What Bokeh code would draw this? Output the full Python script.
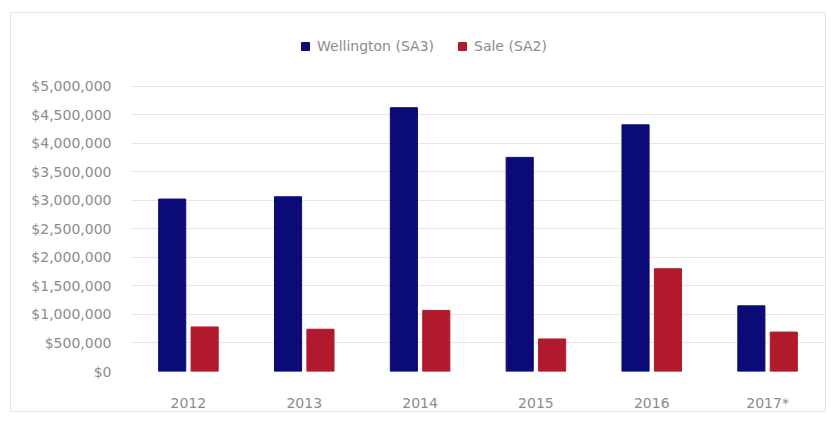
from bokeh.plotting import figure
from bokeh.models import FactorRange, ColumnDataSource, NumeralTickFormatter, FixedTicker, Legend, LegendItem
from bokeh.transform import dodge
from bokeh.embed import file_html
from bokeh.resources import INLINE

years = ["2012", "2013", "2014", "2015", "2016", "2017*"]
wellington = [3020000, 3060000, 4620000, 3750000, 4320000, 1150000]
sale = [780000, 740000, 1070000, 570000, 1800000, 690000]
y_ticks = [0, 500000, 1000000, 1500000, 2000000, 2500000, 3000000, 3500000, 4000000, 4500000, 5000000]

src = ColumnDataSource(dict(year=years, wellington=wellington, sale=sale))

FONT = "DejaVu Sans"
TXT = "#8c8c8c"

p = figure(x_range=FactorRange(*years), y_range=(0, 5972000), width=816, height=400,
           output_backend="svg", toolbar_location=None,
           min_border_left=119, min_border_right=2, min_border_top=17, min_border_bottom=37)
p.margin = (12, 0, 0, 10)
p.styles = {"border": "1px solid #e3e3e3"}
p.outline_line_color = None
p.background_fill_color = "white"

r1 = p.vbar(x=dodge("year", -0.14, range=p.x_range), top="wellington", width=0.234,
            source=src, color="#0b0b78")
r2 = p.vbar(x=dodge("year", 0.14, range=p.x_range), top="sale", width=0.234,
            source=src, color="#b01a2c")

legend = Legend(items=[LegendItem(label="Wellington (SA3)", renderers=[r1]),
                       LegendItem(label="Sale (SA2)", renderers=[r2])],
                orientation="horizontal", location=(170, 317),
                label_text_font=FONT, label_text_font_size="14px",
                label_text_color=TXT, glyph_width=10, glyph_height=10,
                spacing=23, label_standoff=7, border_line_color=None,
                background_fill_alpha=0, padding=0, margin=0)
p.add_layout(legend, "center")

p.yaxis.ticker = FixedTicker(ticks=y_ticks)
p.yaxis.formatter = NumeralTickFormatter(format="$0,0")
for ax in (p.xaxis, p.yaxis):
    ax.axis_line_color = None
    ax.major_tick_line_color = None
    ax.minor_tick_line_color = None
    ax.major_label_text_font = FONT
    ax.major_label_text_font_size = "14px"
    ax.major_label_text_color = TXT
p.yaxis.major_label_standoff = 13
p.xaxis.major_label_standoff = 17
p.xgrid.grid_line_color = None
p.ygrid.grid_line_color = "#e6e6e6"
p.ygrid.ticker = FixedTicker(ticks=y_ticks)
p.x_range.range_padding = 0
p.x_range.group_padding = 0

open("out.html", "w").write(file_html(p, INLINE))
